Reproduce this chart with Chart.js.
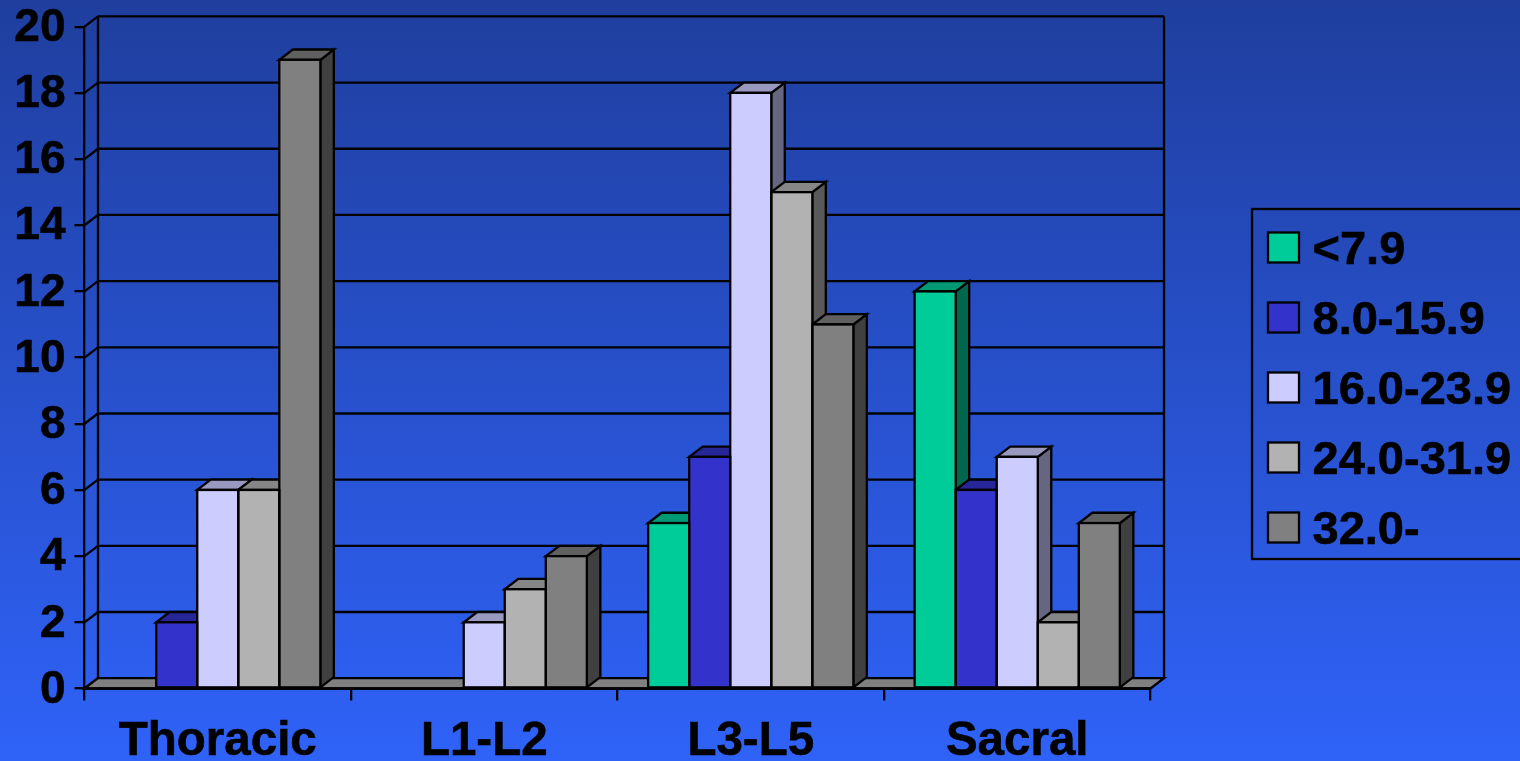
<!DOCTYPE html>
<html>
<head>
<meta charset="utf-8">
<style>
html,body{margin:0;padding:0;width:1520px;height:761px;overflow:hidden;background:linear-gradient(180deg,#1F3E9E 0%,#2F62F8 100%);}
canvas{display:block;}
</style>
<script src="https://cdn.jsdelivr.net/npm/chart.js@4/dist/chart.umd.min.js"></script>
</head>
<body>
<canvas id="c" width="1520" height="761"></canvas>
<script>
const categories = ['Thoracic','L1-L2','L3-L5','Sacral'];
const seriesLabels = ['<7.9','8.0-15.9','16.0-23.9','24.0-31.9','32.0-'];
const under8 = [0,0,5,12];
const from8 = [2,0,7,6];
const from16 = [6,2,18,7];
const from24 = [6,3,15,2];
const from32 = [19,4,11,5];
const colors = ['#00CC99','#3333CC','#CCCCFF','#B2B2B2','#808080'];
const tops = ['#009973','#262699','#9999BF','#868686','#606060'];
const sides = ['#00664D','#1A1A66','#666680','#595959','#404040'];
const seriesValues = [under8,from8,from16,from24,from32];

const DX = 13.5, DY = 10.3, LW = 2.3;
const FAMILY = '"Liberation Sans", Arial, sans-serif';

function poly(ctx, pts, fill){
  ctx.beginPath();
  pts.forEach((p,i)=> i?ctx.lineTo(p[0],p[1]):ctx.moveTo(p[0],p[1]));
  ctx.closePath();
  if(fill){ctx.fillStyle=fill;ctx.fill();}
  ctx.stroke();
}
function line(ctx,x1,y1,x2,y2){ctx.beginPath();ctx.moveTo(x1,y1);ctx.lineTo(x2,y2);ctx.stroke();}

const threeD = {
  id:'threeD',
  beforeDatasetsDraw(chart){
    const {ctx,chartArea:a,scales:{y}} = chart;
    ctx.save();
    ctx.strokeStyle='#000';ctx.lineWidth=LW;ctx.lineJoin='miter';
    y.ticks.forEach(t=>{
      const py=y.getPixelForValue(t.value);
      line(ctx,a.left,py,a.left+DX,py-DY);
      line(ctx,a.left+DX,py-DY,a.right+DX,py-DY);
    });
    line(ctx,a.left+DX,a.top-DY,a.left+DX,a.bottom-DY);
    line(ctx,a.right+DX,a.top-DY,a.right+DX,a.bottom-DY);
    poly(ctx,[[a.left,a.bottom],[a.left+DX,a.bottom-DY],[a.right+DX,a.bottom-DY],[a.right,a.bottom]],'#808080');
    const items=[];
    chart.data.datasets.forEach((d,di)=>{
      chart.getDatasetMeta(di).data.forEach((el,i)=>{
        if(d.data[i]>0) items.push({x:el.x,w:el.width,y:el.y,b:el.base,di});
      });
    });
    items.sort((p,q)=>p.x-q.x);
    items.forEach(r=>{
      const l=r.x-r.w/2, rt=r.x+r.w/2;
      poly(ctx,[[rt,r.y],[rt+DX,r.y-DY],[rt+DX,r.b-DY],[rt,r.b]],sides[r.di]);
      poly(ctx,[[l,r.y],[l+DX,r.y-DY],[rt+DX,r.y-DY],[rt,r.y]],tops[r.di]);
    });
    ctx.restore();
  },
  afterDatasetsDraw(chart){
    const {ctx,chartArea:a} = chart;
    ctx.save();
    ctx.strokeStyle='#000';ctx.lineWidth=LW;
    chart.data.datasets.forEach((d,di)=>{
      chart.getDatasetMeta(di).data.forEach((el,i)=>{
        if(d.data[i]>0) ctx.strokeRect(el.x-el.width/2,el.y,el.width,el.base-el.y);
      });
    });
    line(ctx,a.left,a.bottom,a.right,a.bottom);
    ctx.restore();
  },
  afterDraw(chart){
    const {ctx}=chart;
    ctx.save();
    ctx.strokeStyle='#000';ctx.lineWidth=LW;
    ctx.strokeRect(1252,209,272,350);
    ctx.font='bold 47px '+FAMILY;ctx.textBaseline='middle';ctx.textAlign='left';
    chart.data.datasets.forEach((d,i)=>{
      const cy=247.5+70*i;
      ctx.fillStyle=d.backgroundColor;
      ctx.fillRect(1268,cy-15,31,30);
      ctx.strokeRect(1268,cy-15,31,30);
      ctx.fillStyle='#000';
      ctx.fillText(d.label,1312.5,cy+4);
      ctx.lineWidth=0.6;
      ctx.strokeText(d.label,1312.5,cy+4);
      ctx.lineWidth=LW;
    });
    ctx.restore();
  }
};

new Chart(document.getElementById('c'),{
  type:'bar',
  data:{
    labels:categories,
    datasets:seriesLabels.map((label,i)=>({
      label,data:seriesValues[i],backgroundColor:colors[i],borderWidth:0,
      categoryPercentage:0.77,barPercentage:1
    }))
  },
  plugins:[threeD],
  options:{
    responsive:false,animation:false,
    layout:{padding:{left:0,top:26.7,right:369.5,bottom:0}},
    plugins:{legend:{display:false},tooltip:{enabled:false}},
    scales:{
      x:{
        afterFit(s){s.height=72.5;s.paddingLeft=0;s.paddingRight=0;},
        grid:{drawOnChartArea:false,offset:true,color:'#000',lineWidth:2.3,tickLength:12,tickColor:'#000'},
        border:{color:'#000',width:2.3},
        ticks:{color:'#000',textStrokeColor:'#000',textStrokeWidth:0.6,font:{family:FAMILY,size:47.5,weight:'bold',lineHeight:1},padding:18,maxRotation:0,autoSkip:false}
      },
      y:{
        min:0,max:20,
        afterFit(s){s.width=84.5;s.paddingTop=0;s.paddingBottom=0;},
        grid:{drawOnChartArea:false,color:'#000',lineWidth:2.3,tickLength:10,tickColor:'#000'},
        border:{color:'#000',width:2.3},
        ticks:{color:'#000',textStrokeColor:'#000',textStrokeWidth:0.6,stepSize:2,labelOffset:1.5,font:{family:FAMILY,size:46,weight:'bold',lineHeight:1},padding:9}
      }
    }
  }
});
</script>
</body>
</html>
